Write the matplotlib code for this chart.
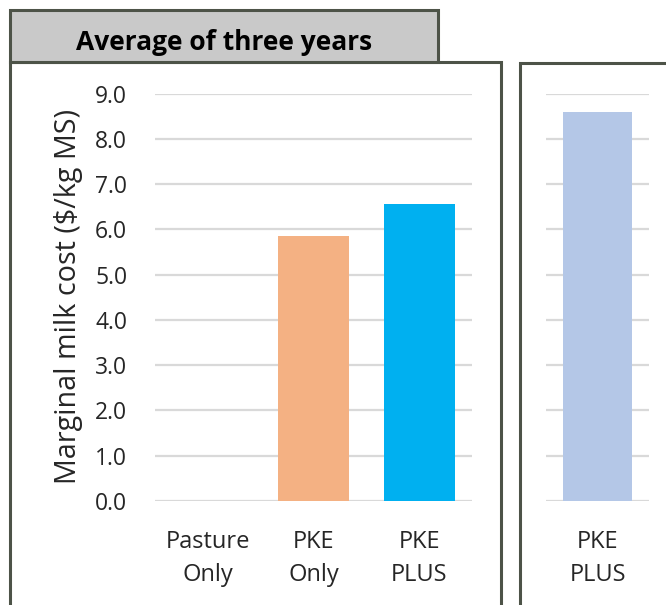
import matplotlib
matplotlib.use("Agg")
import matplotlib.pyplot as plt
from matplotlib.patches import Rectangle

# data
categories = ["Pasture\nOnly", "PKE\nOnly", "PKE\nPLUS"]
values = [0.0, 5.85, 6.56]
bar_colors = ["#f4b183", "#f4b183", "#00b0f0"]

right_categories = ["PKE\nPLUS"]
right_values = [8.6]
right_colors = ["#b4c7e7"]

yticks = [0, 1, 2, 3, 4, 5, 6, 7, 8, 9]

W, H = 666, 605
plt.rcParams['font.family'] = ['Open Sans', 'DejaVu Sans']

fig = plt.figure(figsize=(W / 100, H / 100), dpi=100)
txt = "#262626"


def px_box(x0, y0, x1, y1):
    # pixel coords (top-left origin) -> figure fraction [l, b, w, h]
    return [x0 / W, (H - y1) / H, (x1 - x0) / W, (y1 - y0) / H]


def style_axes(ax):
    for s in ax.spines.values():
        s.set_visible(False)
    ax.set_ylim(0, 9)
    ax.set_yticks(yticks)
    ax.yaxis.grid(True, color="#d9d9d9", linewidth=1.6)
    ax.set_axisbelow(True)
    ax.tick_params(length=0, labelsize=16.5, colors=txt)


# frames drawn first
edge = "#4d5348"
fig.patches.append(Rectangle((10 / W, -0.05), (501 - 10) / W, (H - 62) / H + 0.05,
                             transform=fig.transFigure, fill=False, edgecolor=edge,
                             linewidth=2.2, zorder=0))
fig.patches.append(Rectangle((520 / W, -0.05), 0.5, (H - 63) / H + 0.05,
                             transform=fig.transFigure, fill=False, edgecolor=edge,
                             linewidth=2.2, zorder=0))
fig.patches.append(Rectangle((10 / W, (H - 62) / H), (438 - 10) / W, 52 / H,
                             transform=fig.transFigure, facecolor="#c9c9c9", edgecolor=edge,
                             linewidth=2.2, zorder=1))
fig.text(224 / W, (H - 50) / H, "Average of three years", ha="center", va="baseline",
         fontsize=19, fontweight="bold", color="#000000")

# left panel
ax = fig.add_axes(px_box(155, 93.7, 472, 501))
style_axes(ax)
ax.bar(range(len(categories)), values, width=0.67, color=bar_colors)
ax.set_xlim(-0.5, len(categories) - 0.5)
ax.set_xticks(range(len(categories)))
ax.set_xticklabels(categories, fontsize=17, linespacing=1.5)
ax.tick_params(axis="x", pad=21)
ax.set_yticklabels([f"{v:.1f}" for v in yticks])
ax.tick_params(axis="y", pad=20)
fig.text(69 / W, (H - 296) / H, "Marginal milk cost ($/kg MS)", rotation=90,
         ha="center", va="center", fontsize=20.7, color=txt)

# right panel
ax2 = fig.add_axes(px_box(546, 93.7, 649, 501))
style_axes(ax2)
ax2.bar(range(len(right_categories)), right_values, width=0.67, color=right_colors)
ax2.set_xlim(-0.5, 0.5)
ax2.set_xticks(range(len(right_categories)))
ax2.set_xticklabels(right_categories, fontsize=17, linespacing=1.5)
ax2.tick_params(axis="x", pad=21)
ax2.set_yticklabels([])

fig.savefig("out.png", dpi=100)
